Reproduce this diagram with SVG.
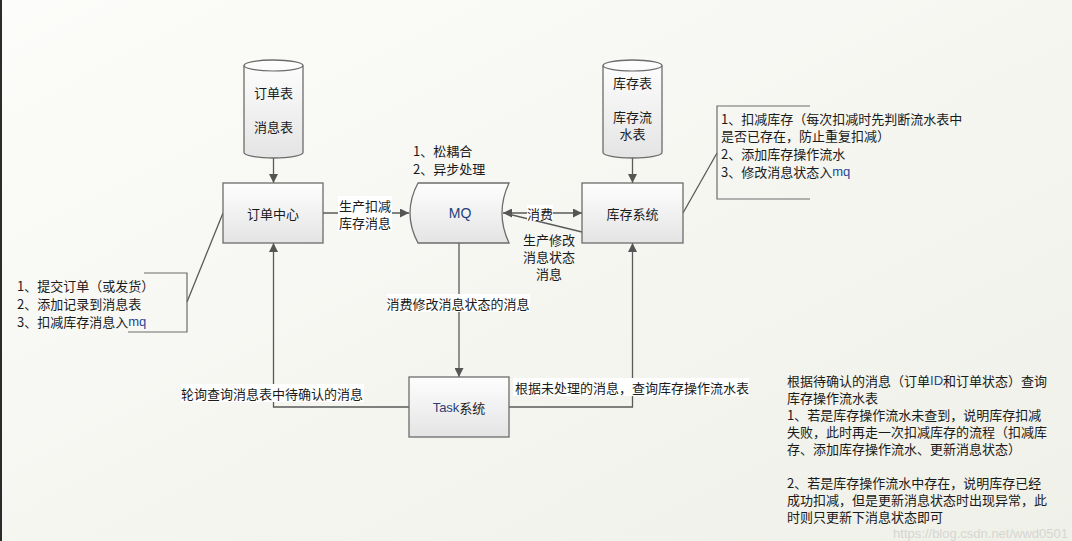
<svg xmlns="http://www.w3.org/2000/svg" width="1072" height="541" viewBox="0 0 1072 541">
<defs>
<linearGradient id="bg" x1="0" y1="0" x2="1" y2="1"><stop offset="0" stop-color="#fcfcfa"/><stop offset="1" stop-color="#eff0e8"/></linearGradient>
<linearGradient id="box" x1="0" y1="0" x2="0" y2="1"><stop offset="0" stop-color="#fefefe"/><stop offset="1" stop-color="#e4e4e4"/></linearGradient>
<marker id="ah" viewBox="0 0 10 10" refX="10" refY="5" markerWidth="9" markerHeight="9" markerUnits="userSpaceOnUse" orient="auto-start-reverse"><path d="M0,0 L10,5 L0,10 z" fill="#555"/></marker>
<style>
.shape{fill:url(#box);stroke:#6c6c6c;stroke-width:1.3}
.t{font-family:"Noto Sans CJK SC","Liberation Sans",sans-serif;font-size:13px;fill:#1a1a1a}
.c{text-anchor:middle;dominant-baseline:central}
.l{dominant-baseline:central}
.con{fill:none;stroke:#5a5a5a;stroke-width:1.3}
.arr{marker-end:url(#ah)}
.lbg{fill:#ffffff}
.blue{fill:#23479a}
.br{fill:none;stroke:#6c6c6c;stroke-width:1.2}
</style>
</defs>
<rect x="0" y="0" width="1072" height="541" fill="url(#bg)"/>
<rect x="0" y="0" width="2" height="541" fill="#2b2b2b"/>

<g id="connectors">
<path class="con arr" d="M273.5,158 L273.5,183"/>
<path class="con arr" d="M632.5,158 L632.5,183"/>
<path class="con arr" d="M323,213 L409,213"/>
<path class="con" d="M503,213 L582,213" marker-start="url(#ah)" marker-end="url(#ah)"/>
<path class="con" d="M582,232 L508,214"/>
<path class="con arr" d="M459,243 L459,377"/>
<path class="con arr" d="M409,407 L273.5,407 L273.5,243"/>
<path class="con arr" d="M509,407 L632.5,407 L632.5,243"/>
<path class="con" d="M223,213 L187,302"/>
<path class="con" d="M683,213 L717,153"/>
<rect class="lbg" x="338" y="196" width="54" height="35"/>
<text class="t c" x="365" y="205">生产扣减<tspan x="365" dy="17">库存消息</tspan></text>
<rect class="lbg" x="527" y="205" width="26" height="16"/>
<text class="t c" x="540" y="213">消费</text>
<text class="t c" x="549" y="239">生产修改<tspan x="549" dy="17">消息状态</tspan><tspan x="549" dy="17">消息</tspan></text>
<rect class="lbg" x="387" y="294" width="143" height="18"/>
<text class="t c" x="458" y="303">消费修改消息状态的消息</text>
<rect class="lbg" x="181" y="384" width="183" height="18"/>
<text class="t c" x="272" y="393">轮询查询消息表中待确认的消息</text>
<rect class="lbg" x="513" y="378" width="236" height="18"/>
<text class="t l" x="515" y="387">根据未处理的消息，查询库存操作流水表</text>
</g>

<g id="order-db">
<path class="shape" d="M244,65.5 A29.5,5.5 0 0 1 303,65.5 L303,152.5 A29.5,5.5 0 0 1 244,152.5 Z"/>
<path class="br" d="M244,65.5 A29.5,5.5 0 0 0 303,65.5"/>
<text class="t c" x="273.5" y="92">订单表<tspan x="273.5" dy="34">消息表</tspan></text>
</g>

<g id="stock-db">
<path class="shape" d="M603,65.5 A29.5,5.5 0 0 1 662,65.5 L662,152.5 A29.5,5.5 0 0 1 603,152.5 Z"/>
<path class="br" d="M603,65.5 A29.5,5.5 0 0 0 662,65.5"/>
<text class="t c" x="632.5" y="82">库存表<tspan x="632.5" dy="34">库存流</tspan><tspan x="632.5" dy="17">水表</tspan></text>
</g>

<g id="order-center">
<rect class="shape" x="223" y="183" width="100" height="60"/>
<text class="t c" x="273" y="213">订单中心</text>
</g>

<g id="mq">
<path class="shape" d="M418,183 L509,183 Q495,213 509,243 L418,243 Q402,213 418,183 Z"/>
<text class="t c" x="460" y="213" style="font-family:'Liberation Sans',sans-serif;font-size:14px;fill:#23407a">MQ</text>
<text class="t l" x="413" y="150">1、松耦合<tspan x="413" dy="18">2、异步处理</tspan></text>
</g>

<g id="stock-system">
<rect class="shape" x="582" y="183" width="101" height="60"/>
<text class="t c" x="632.5" y="213">库存系统</text>
</g>

<g id="task-system">
<rect class="shape" x="409" y="377" width="100" height="60"/>
<text class="t c" x="459" y="407"><tspan style="font-family:'Liberation Sans',sans-serif" fill="#2a3f78">Task</tspan>系统</text>
</g>

<g id="note-order">
<path class="br" d="M144,273 L187,273 L187,332 L128,332"/>
<text class="t l" x="17" y="285">1、提交订单（或发货）<tspan x="17" dy="18">2、添加记录到消息表</tspan><tspan x="17" dy="18">3、扣减库存消息入</tspan><tspan class="blue" style="font-family:'Liberation Sans',sans-serif">mq</tspan></text>
</g>

<g id="note-stock">
<path class="br" d="M810,106 L717,106 L717,199 L810,199"/>
<text class="t l" x="721" y="118">1、扣减库存（每次扣减时先判断流水表中<tspan x="721" dy="17">是否已存在，防止重复扣减）</tspan><tspan x="721" dy="18">2、添加库存操作流水</tspan><tspan x="721" dy="18">3、修改消息状态入</tspan><tspan class="blue" style="font-family:'Liberation Sans',sans-serif">mq</tspan></text>
</g>

<g id="note-task">
<text class="t l" x="787" y="380">根据待确认的消息（订单<tspan class="blue" style="font-family:'Liberation Sans',sans-serif">ID</tspan>和订单状态）查询<tspan x="787" dy="17">库存操作流水表</tspan><tspan x="787" dy="17">1、若是库存操作流水未查到，说明库存扣减</tspan><tspan x="787" dy="17">失败，此时再走一次扣减库存的流程（扣减库</tspan><tspan x="787" dy="17">存、添加库存操作流水、更新消息状态）</tspan><tspan x="787" dy="34">2、若是库存操作流水中存在，说明库存已经</tspan><tspan x="787" dy="17">成功扣减，但是更新消息状态时出现异常，此</tspan><tspan x="787" dy="17">时则只更新下消息状态即可</tspan></text>
</g>

<text x="1068" y="538" text-anchor="end" style="font-family:'Liberation Sans',sans-serif;font-size:13px;fill:#d6d6d2">https://blog.csdn.net/wwd0501</text>
</svg>
